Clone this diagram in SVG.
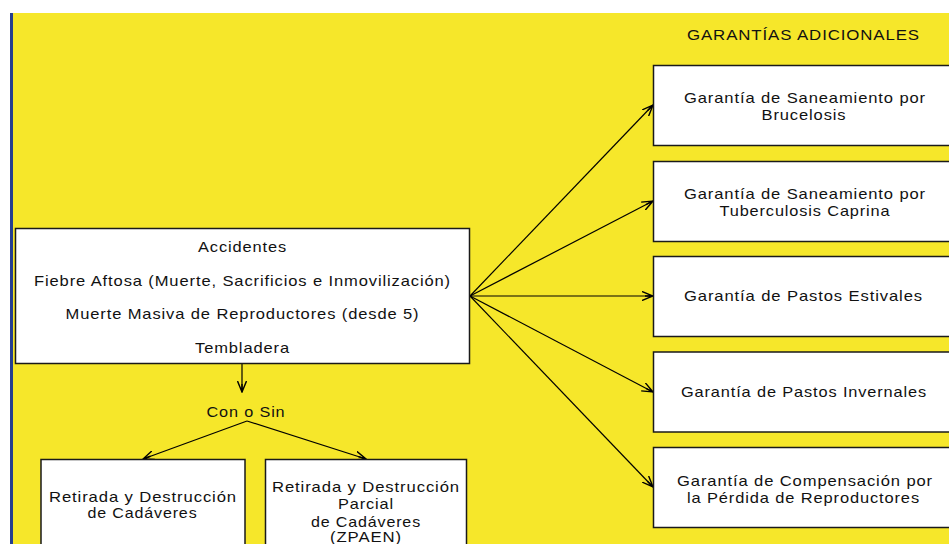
<svg xmlns="http://www.w3.org/2000/svg" width="949" height="544" viewBox="0 0 949 544">
<style>
.box{fill:#fff;stroke:#1a1a1a;stroke-width:1.5}
.t{font-family:"Liberation Sans",Arial,sans-serif;font-size:15px;fill:#111;text-anchor:middle;letter-spacing:0.8px}
.c{stroke:#000;stroke-width:1.2;fill:none;marker-end:url(#ah)}
</style>
<defs>
<marker id="ah" viewBox="0 0 12 10" refX="11" refY="5" markerWidth="12" markerHeight="10" markerUnits="userSpaceOnUse" orient="auto">
<path d="M0,0.5 L11,5 L0,9.5 M3,5 L11,5" fill="none" stroke="#000" stroke-width="1.4"/>
</marker>
</defs>
<rect x="0" y="0" width="949" height="544" fill="#fff"/>
<rect x="13" y="13" width="936" height="531" fill="#F6E72A"/>
<rect x="10" y="13" width="3" height="531" fill="#263F8F"/>
<text class="t" x="803.5" y="40" textLength="233" lengthAdjust="spacingAndGlyphs">GARANTÍAS ADICIONALES</text>
<g id="connectors">
<line class="c" x1="470" y1="296" x2="653" y2="105"/>
<line class="c" x1="470" y1="296" x2="653" y2="201"/>
<line class="c" x1="470" y1="296" x2="653" y2="296"/>
<line class="c" x1="470" y1="296" x2="653" y2="392"/>
<line class="c" x1="470" y1="296" x2="653" y2="487"/>
<line class="c" x1="242" y1="364" x2="242" y2="392"/>
<line class="c" x1="247" y1="421" x2="143" y2="459"/>
<line class="c" x1="247" y1="421" x2="366" y2="459"/>
</g>
<g id="main">
<rect class="box" x="15.5" y="228.5" width="454" height="135"/>
<text class="t" x="242.5" y="252" textLength="89" lengthAdjust="spacingAndGlyphs">Accidentes</text>
<text class="t" x="242.5" y="285.5" textLength="417" lengthAdjust="spacingAndGlyphs">Fiebre Aftosa (Muerte, Sacrificios e Inmovilización)</text>
<text class="t" x="242.5" y="319" textLength="354" lengthAdjust="spacingAndGlyphs">Muerte Masiva de Reproductores (desde 5)</text>
<text class="t" x="242.5" y="352.5" textLength="95" lengthAdjust="spacingAndGlyphs">Tembladera</text>
</g>
<g id="conosin">
<text class="t" x="246" y="417" textLength="79" lengthAdjust="spacingAndGlyphs">Con o Sin</text>
</g>
<g id="retirada">
<rect class="box" x="41" y="459.5" width="204" height="100"/>
<text class="t" x="143" y="501.5" textLength="188" lengthAdjust="spacingAndGlyphs">Retirada y Destrucción</text>
<text class="t" x="142.5" y="517.5" textLength="110" lengthAdjust="spacingAndGlyphs">de Cadáveres</text>
</g>
<g id="retirada-parcial">
<rect class="box" x="265.5" y="459.5" width="201" height="100"/>
<text class="t" x="366" y="491.5" textLength="188" lengthAdjust="spacingAndGlyphs">Retirada y Destrucción</text>
<text class="t" x="366" y="509" textLength="56" lengthAdjust="spacingAndGlyphs">Parcial</text>
<text class="t" x="366" y="526.5" textLength="110" lengthAdjust="spacingAndGlyphs">de Cadáveres</text>
<text class="t" x="366" y="542" textLength="72" lengthAdjust="spacingAndGlyphs">(ZPAEN)</text>
</g>
<g id="g1">
<rect class="box" x="653.5" y="65.5" width="300" height="80"/>
<text class="t" x="805" y="103" textLength="242" lengthAdjust="spacingAndGlyphs">Garantía de Saneamiento por</text>
<text class="t" x="804" y="119.5" textLength="85" lengthAdjust="spacingAndGlyphs">Brucelosis</text>
</g>
<g id="g2">
<rect class="box" x="653.5" y="161.5" width="300" height="80"/>
<text class="t" x="805" y="199" textLength="242" lengthAdjust="spacingAndGlyphs">Garantía de Saneamiento por</text>
<text class="t" x="805" y="215.5" textLength="171" lengthAdjust="spacingAndGlyphs">Tuberculosis Caprina</text>
</g>
<g id="g3">
<rect class="box" x="653.5" y="256.5" width="300" height="80"/>
<text class="t" x="803.5" y="301" textLength="239" lengthAdjust="spacingAndGlyphs">Garantía de Pastos Estivales</text>
</g>
<g id="g4">
<rect class="box" x="653.5" y="352" width="300" height="80"/>
<text class="t" x="804" y="397" textLength="246" lengthAdjust="spacingAndGlyphs">Garantía de Pastos Invernales</text>
</g>
<g id="g5">
<rect class="box" x="653.5" y="447.5" width="300" height="80"/>
<text class="t" x="805" y="486" textLength="256" lengthAdjust="spacingAndGlyphs">Garantía de Compensación por</text>
<text class="t" x="803.5" y="502.5" textLength="233" lengthAdjust="spacingAndGlyphs">la Pérdida de Reproductores</text>
</g>
</svg>
